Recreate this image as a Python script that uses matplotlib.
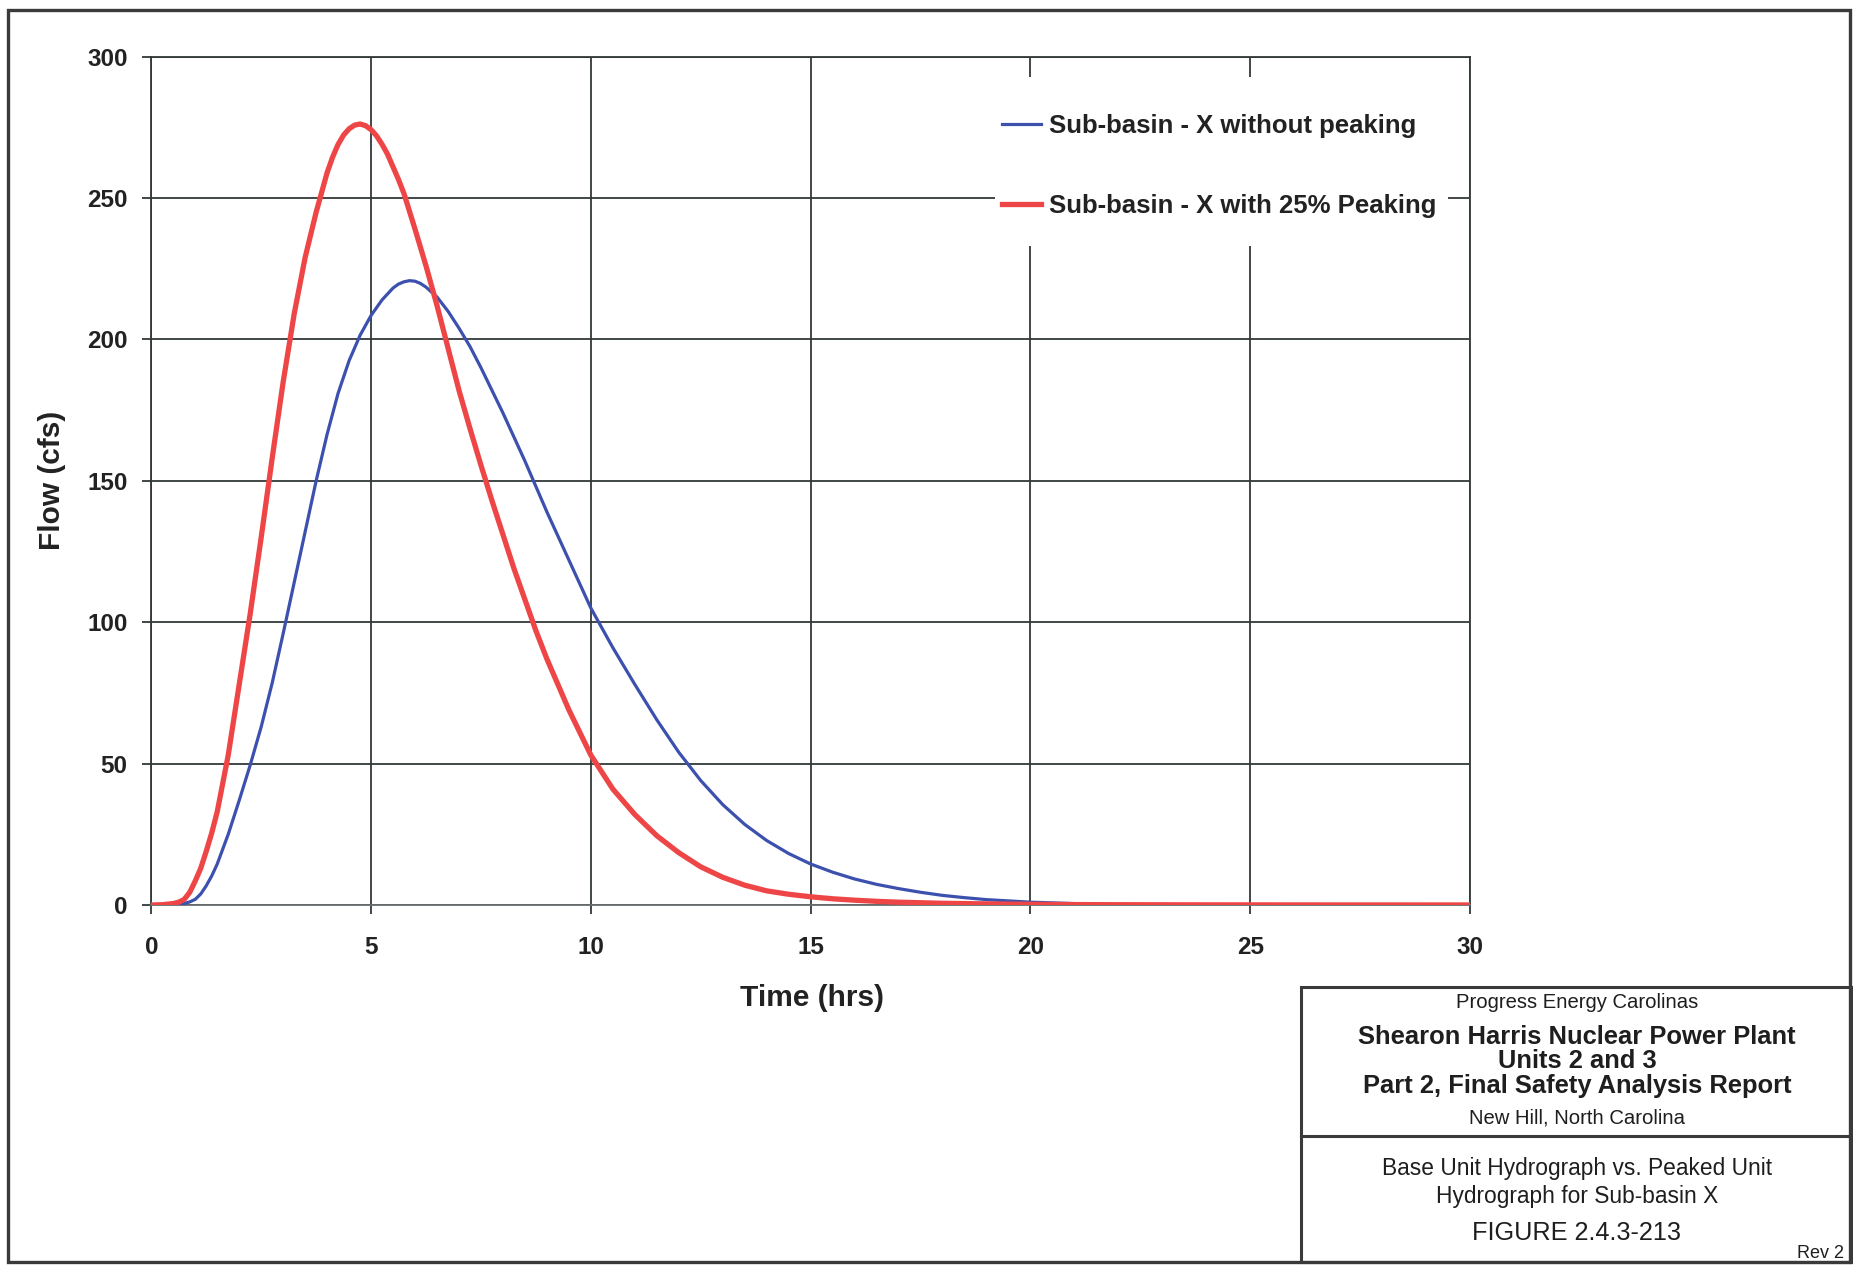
import matplotlib
matplotlib.use("Agg")
import matplotlib.pyplot as plt
from matplotlib.patches import Rectangle
from matplotlib.lines import Line2D

plt.rcParams['font.family'] = ['Liberation Sans', 'DejaVu Sans']

# Unit hydrograph ordinates (hours, cfs)
time_base = [0, 0.25, 0.5, 0.625, 0.75, 0.875, 1.0, 1.125, 1.25, 1.375, 1.5,
             1.75, 2.0, 2.25, 2.5, 2.75, 3.0, 3.25, 3.5, 3.75, 4.0, 4.25, 4.5,
             4.75, 5.0, 5.25, 5.5, 5.625, 5.75, 5.875, 6.0, 6.125, 6.25, 6.5,
             6.75, 7.0, 7.25, 7.5, 7.75, 8.0, 8.25, 8.5, 8.75, 9.0, 9.5, 10.0,
             10.5, 11.0, 11.5, 12.0, 12.5, 13.0, 13.5, 14.0, 14.5, 15.0, 15.5,
             16.0, 16.5, 17.0, 17.5, 18.0, 18.5, 19.0, 20.0, 21.0, 21.5]
flow_base = [0, 0, 0, 0.2, 0.5, 1.1, 2, 3.9, 6.8, 10.3, 14.5,
             25, 37, 49.5, 63, 78.5, 96, 114, 132, 150, 166.5, 181, 192.5,
             201.5, 208.5, 214, 218.2, 219.6, 220.4, 220.8, 220.6, 219.8, 218.5, 215,
             210, 204, 197.5, 190, 182, 174, 165.5, 157, 148, 139, 122, 105,
             91, 78, 65.5, 54, 44, 35.5, 28.5, 22.8, 18.2, 14.5, 11.6,
             9.2, 7.3, 5.8, 4.5, 3.4, 2.6, 1.9, 1.0, 0.5, 0.35]

time_peak = [0, 0.25, 0.5, 0.625, 0.75, 0.875, 1.0, 1.125, 1.25, 1.375, 1.5,
             1.75, 2.0, 2.25, 2.5, 2.75, 3.0, 3.25, 3.5, 3.75, 4.0, 4.125, 4.25,
             4.375, 4.5, 4.625, 4.75, 4.875, 5.0, 5.125, 5.25, 5.375, 5.5, 5.625,
             5.75, 6.0, 6.25, 6.5, 6.75, 7.0, 7.25, 7.5, 7.75, 8.0, 8.25, 8.5,
             8.75, 9.0, 9.5, 10.0, 10.5, 11.0, 11.5, 12.0, 12.5, 13.0, 13.5,
             14.0, 14.5, 15.0, 15.5, 16.0, 16.5, 17.0, 17.5, 18.0, 19.0, 20.0,
             21.0, 22.0, 24.0, 26.0, 28.0, 30.0]
flow_peak = [0, 0.1, 0.5, 1.0, 2, 4.5, 8.5, 13, 19, 25.5, 33,
             53, 78, 103, 130, 158, 185, 209, 229, 245, 259, 264.5, 269,
             272.3, 274.5, 275.8, 276.2, 275.6, 274.2, 272, 269, 265.5, 261, 256.5,
             251.5, 239, 226, 212, 197, 182, 168.5, 155.5, 143, 131, 119, 108,
             97, 87, 69, 53, 41, 32, 24.5, 18.5, 13.5, 9.8, 7,
             5, 3.8, 2.9, 2.2, 1.7, 1.3, 1.0, 0.8, 0.6, 0.4, 0.25,
             0.15, 0.1, 0.05, 0.03, 0.02, 0.01]

series_labels = ["Sub-basin - X without peaking", "Sub-basin - X with 25% Peaking"]
x_ticks = [0, 5, 10, 15, 20, 25, 30]
y_ticks = [0, 50, 100, 150, 200, 250, 300]
x_label = "Time (hrs)"
y_label = "Flow (cfs)"

title_lines = [
    ("Progress Energy Carolinas", 1002.5, 14.6, "normal"),
    ("Shearon Harris Nuclear Power Plant", 1036.5, 18.4, "bold"),
    ("Units 2 and 3", 1060.5, 18.4, "bold"),
    ("Part 2, Final Safety Analysis Report", 1085.5, 18.4, "bold"),
    ("New Hill, North Carolina", 1118, 14.6, "normal"),
    ("Base Unit Hydrograph vs. Peaked Unit", 1168, 16.4, "normal"),
    ("Hydrograph for Sub-basin X", 1196, 16.4, "normal"),
    ("FIGURE 2.4.3-213", 1233, 18.2, "normal"),
]
revision = "Rev 2"

BLUE = "#3C50AE"
RED = "#EE4646"
GRID = "#333838"
TEXT = "#222222"

W, H = 1853, 1267
fig = plt.figure(figsize=(W / 100, H / 100), dpi=100)


def fx(x):
    return x / W


def fy(y):
    return 1 - y / H


ax_left, ax_right, ax_top, ax_bottom = 151.3, 1470.0, 56.7, 905.0
ax = fig.add_axes([fx(ax_left), fy(ax_bottom),
                   (ax_right - ax_left) / W, (ax_bottom - ax_top) / H])

ax.set_xlim(0, 30)
ax.set_ylim(0, 300)
ax.set_xticks(x_ticks)
ax.set_yticks(y_ticks)
ax.set_axisbelow(True)
ax.grid(True, color=GRID, linewidth=1.3)
for s in ax.spines.values():
    s.set_color(GRID)
    s.set_linewidth(1.3)
ax.spines['bottom'].set_color('#6a6e70')
ax.tick_params(axis='both', direction='out', length=6.5, width=1.3, color=GRID,
               labelsize=17.5, labelcolor=TEXT)
ax.tick_params(axis='y', pad=10.5)
ax.tick_params(axis='x', pad=16)
for lab in ax.get_xticklabels() + ax.get_yticklabels():
    lab.set_fontweight('bold')

ax.plot(time_base, flow_base, color=BLUE, linewidth=2.3, label=series_labels[0],
        zorder=3, solid_joinstyle='round')
ax.plot(time_peak, flow_peak, color=RED, linewidth=3.8, label=series_labels[1],
        zorder=4, solid_joinstyle='round')

# White panel behind the legend, masking the grid
ax.add_patch(Rectangle((0.640, 0.777), 0.343, 0.199, transform=ax.transAxes,
                       facecolor='white', edgecolor='none', zorder=1))
leg = ax.legend(loc='upper left', bbox_to_anchor=(0.645, 0.933), frameon=False,
                borderpad=0, borderaxespad=0, labelspacing=2.2, handlelength=1.52,
                handletextpad=0.32, prop={'size': 18.5, 'weight': 'bold'})
for t in leg.get_texts():
    t.set_color(TEXT)

ax.set_xlabel(x_label, fontsize=21.5, fontweight='bold', color=TEXT)
ax.set_ylabel(y_label, fontsize=21.5, fontweight='bold', color=TEXT)
ax.xaxis.label.set_va('center')
ax.yaxis.label.set_va('center')
ax.xaxis.set_label_coords(0.501, -0.110)
ax.yaxis.set_label_coords(-0.075, 0.5)

# Sheet border and title block
fig.add_artist(Rectangle((fx(8), fy(1262)), fx(1850) - fx(8), fy(10) - fy(1262),
                         transform=fig.transFigure, facecolor='none',
                         edgecolor='#3a3a3a', linewidth=2.4))
fig.add_artist(Rectangle((fx(1301), fy(1262)), fx(1853) - fx(1301), fy(987) - fy(1262),
                         transform=fig.transFigure, facecolor='none',
                         edgecolor='#3a3a3a', linewidth=2.2))
fig.add_artist(Line2D([fx(1301), fx(1853)], [fy(1136), fy(1136)],
                      transform=fig.transFigure, color='#3a3a3a', linewidth=2.2))

cx = fx(1577)
for text, y, size, weight in title_lines:
    fig.text(cx, fy(y), text, ha='center', va='center', fontsize=size,
             fontweight=weight, color='#1e1e1e')
fig.text(fx(1844), fy(1253), revision, ha='right', va='center', fontsize=13,
         color='#1e1e1e')

fig.savefig('out.png', dpi=100)
